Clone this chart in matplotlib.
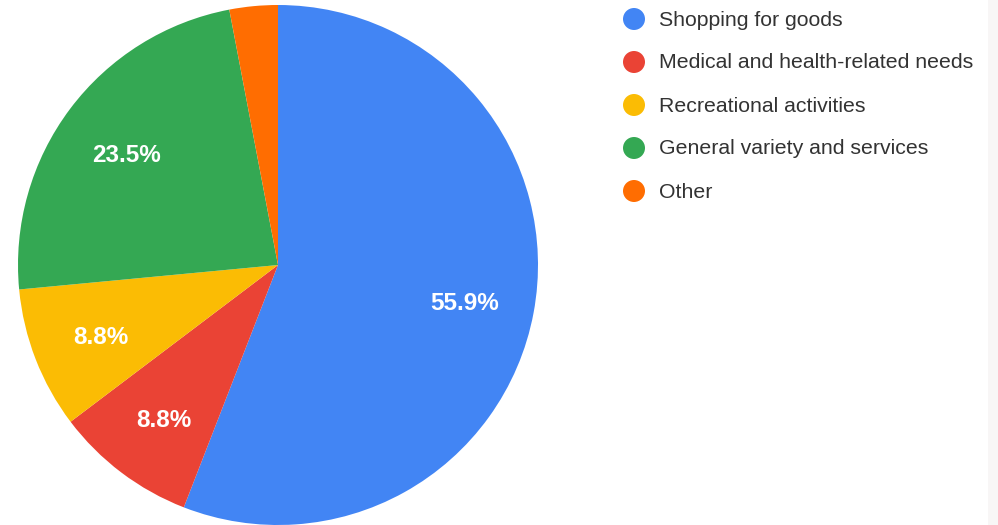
import matplotlib.pyplot as plt
import matplotlib.patches as mpatches

plt.rcParams['font.family'] = ['Liberation Sans', 'DejaVu Sans']

# data
categories = ['Shopping for goods', 'Medical and health-related needs',
              'Recreational activities', 'General variety and services', 'Other']
shares = [55.9, 8.8, 8.8, 23.5, 3.0]
colors = ['#4285F4', '#EA4335', '#FBBC04', '#34A853', '#FF6D01']

W, H = 998, 525
fig = plt.figure(figsize=(W / 100, H / 100), dpi=100)
ax = fig.add_axes([0, 0, 1, 1])

def pct_label(p):
    # the small slice stays unlabeled
    return '%.1f%%' % p if p >= 5 else ''

wedges, texts, autotexts = ax.pie(shares, colors=colors, startangle=90,
                                  counterclock=False, center=(278, H - 265),
                                  radius=260, autopct=pct_label,
                                  pctdistance=0.73,
                                  wedgeprops=dict(linewidth=0),
                                  frame=True)
for t in autotexts:
    x, y = t.get_position()
    t.set_position((x, y - 4))
    t.set_color('white')
    t.set_fontsize(17.5)
    t.set_fontweight('bold')
ax.set_xlim(0, W)
ax.set_ylim(0, H)
ax.set_aspect('equal')
ax.axis('off')

# legend on the right
row_y = 19
for name, c in zip(categories, colors):
    ax.add_patch(mpatches.Circle((634, H - row_y), 11, color=c, lw=0))
    ax.text(659, H - row_y - 6.5, name, fontsize=15.3, color='#333333',
            va='baseline', ha='left')
    row_y += 43

# faint strip at the right edge
fig.patches.append(mpatches.Rectangle((988 / W, 0), 10 / W, 1,
                                      transform=fig.transFigure,
                                      color='#f8f6f6', lw=0))

fig.savefig('out.png', dpi=100)
